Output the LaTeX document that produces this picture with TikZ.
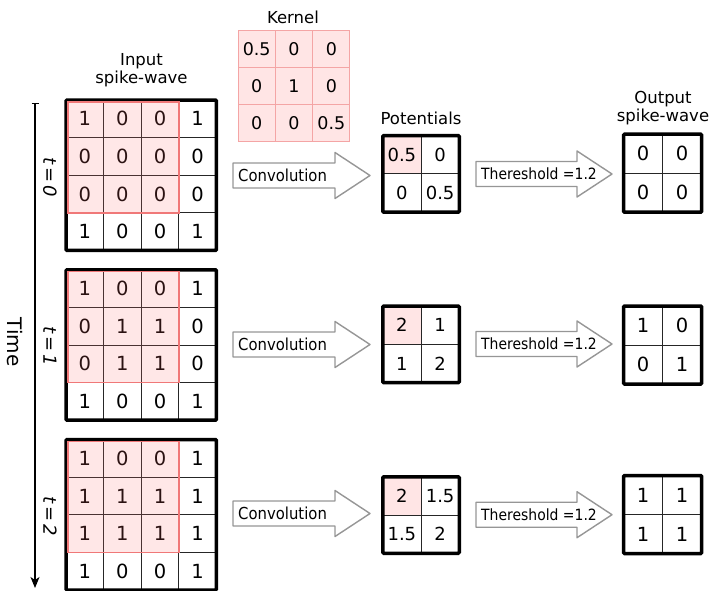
\documentclass[tikz,border=0pt]{standalone}
\usepackage{fontspec}
\setmainfont{DejaVu Sans}
\newfontfamily\condfont[FakeStretch=0.9]{DejaVu Sans}
\usetikzlibrary{arrows.meta}
\definecolor{pinkfill}{RGB}{255,229,229}
\definecolor{pinkline}{RGB}{244,165,165}
\definecolor{hlred}{RGB}{240,120,120}
\definecolor{hlover}{RGB}{255,110,110}
\definecolor{arrgray}{RGB}{150,150,150}
\tikzset{
  thickbox/.style={line width=3.5pt, rounded corners=1pt},
  cellline/.style={line width=0.9pt, black!85},
  digit/.style={font=\fontsize{19.5}{21}\selectfont, inner sep=0pt},
  kdigit/.style={font=\fontsize{17.5}{19}\selectfont, inner sep=0pt},
  pdigit/.style={font=\fontsize{18}{20}\selectfont, inner sep=0pt},
  lbl/.style={font=\fontsize{16.5}{19}\selectfont, inner sep=0pt, align=center},
  hlfill/.style={fill=hlover, fill opacity=0.17},
  hlbox/.style={draw=hlred, line width=1.5pt},
  bigarrow/.style={draw=arrgray, line width=1.4pt, fill=white, line join=round},
  convtxt/.style={font=\condfont\fontsize{16.5}{18}\selectfont, inner sep=0pt, anchor=west},
  thrtxt/.style={font=\condfont\fontsize{15.5}{17}\selectfont, inner sep=0pt, anchor=west},
  tlbl/.style={font=\itshape\fontsize{18}{20}\selectfont, inner sep=0pt, rotate=-90},
}
% input grid: #1 name, #2 top y, #3 rows
\newcommand\ingrid[3]{%
  \def\gs{37.6}%
  \foreach \row [count=\r from 0] in {#3} {%
    \foreach \v [count=\c from 0] in \row {%
      \node[digit] (#1-\r-\c) at ({66+\gs*\c+\gs/2},{#2+\gs*\r+\gs/2}) {\v};
    }%
  }%
  \foreach \k in {1,2,3} {%
    \draw[cellline] ({66+\gs*\k},#2) -- ({66+\gs*\k},{#2+4*\gs});
    \draw[cellline] (66,{#2+\gs*\k}) -- ({66+4*\gs},{#2+\gs*\k});
  }%
  \fill[hlfill] (67.5,{#2+1.5}) rectangle ({66+3*\gs},{#2+3*\gs});
  \draw[thickbox] (66,#2) rectangle ({66+4*\gs},{#2+4*\gs});
  \draw[hlbox] (67.8,{#2+1.8}) rectangle ({66+3*\gs},{#2+3*\gs});
}
% 2x2 grid: #1 name, #2 cx, #3 cy, #4 half, #5 four values, #6 highlight?, #7 digit style
\newcommand\smallgrid[7]{%
  \ifnum#6=1 \fill[pinkfill] ({#2-#4},{#3-#4}) rectangle (#2,#3);\fi
  \draw[cellline] (#2,{#3-#4}) -- (#2,{#3+#4});
  \draw[cellline] ({#2-#4},#3) -- ({#2+#4},#3);
  \draw[thickbox] ({#2-#4},{#3-#4}) rectangle ({#2+#4},{#3+#4});
  \foreach \v [count=\i from 0] in {#5} {%
    \pgfmathtruncatemacro\cc{mod(\i,2)}%
    \pgfmathtruncatemacro\rr{\i/2}%
    \node[#7] (#1-\rr-\cc) at ({#2-#4/2+#4*\cc},{#3-#4/2+#4*\rr}) {\v};
  }%
}
% arrow: #1 tail x, #2 tip x, #3 head base x, #4 cy
\newcommand\fatarrow[4]{%
  \draw[bigarrow] (#1,{#4-12.5}) -- (#3,{#4-12.5}) -- (#3,{#4-23}) -- (#2,#4)
    -- (#3,{#4+23}) -- (#3,{#4+12.5}) -- (#1,{#4+12.5}) -- cycle;
}
\begin{document}
\begin{tikzpicture}[x=1pt,y=-1pt]
\useasboundingbox (0,0) rectangle (715,590);

% labels
\node[lbl] (kernlbl) at (293,17) {Kernel};
\node[lbl] (inlbl) at (141.5,70) {Input\\[-1pt]spike-wave};
\node[lbl] (potlbl) at (421,118) {Potentials};
\node[lbl] (outlbl) at (663,108) {Output\\[-1pt]spike-wave};

% kernel
\fill[pinkfill] (238,30) rectangle (350,142);
\foreach \k in {0,1,2,3} {
  \draw[pinkline, line width=1pt] ({238+37.33*\k},30) -- ({238+37.33*\k},142);
  \draw[pinkline, line width=1pt] (238,{30+37.33*\k}) -- (350,{30+37.33*\k});
}
\foreach \row [count=\r from 0] in {{0.5,0,0},{0,1,0},{0,0,0.5}} {
  \foreach \v [count=\c from 0] in \row {
    \node[kdigit] (k-\r-\c) at ({238+37.33*\c+18.67},{30+37.33*\r+18.67}) {\v};
  }
}

% time axis
\coordinate (ttop) at (35,103);
\coordinate (tbot) at (35,588);
\draw[line width=1.4pt, {Bar[width=7pt]}-{Stealth[length=11pt,width=9pt,inset=3pt]}] (ttop) -- (tbot);
\node[font=\fontsize{20}{22}\selectfont, inner sep=0pt, rotate=-90] (timelbl) at (15,342) {Time};

% input grids
\ingrid{ga}{100}{{1,0,0,1},{0,0,0,0},{0,0,0,0},{1,0,0,1}}
\ingrid{gb}{269.8}{{1,0,0,1},{0,1,1,0},{0,1,1,0},{1,0,0,1}}
\ingrid{gc}{439.6}{{1,0,0,1},{1,1,1,1},{1,1,1,1},{1,0,0,1}}

\node[tlbl] (t0) at (50,177) {t\,=\,0};
\node[tlbl] (t1) at (50,346) {t\,=\,1};
\node[tlbl] (t2) at (50,516) {t\,=\,2};

% potentials
\smallgrid{pa}{421}{173.8}{38.25}{0.5,0,0,0.5}{1}{pdigit}
\smallgrid{pb}{421}{344.4}{38.25}{2,1,1,2}{1}{pdigit}
\smallgrid{pc}{421}{515}{38.25}{2,1.5,1.5,2}{1}{pdigit}

% outputs
\smallgrid{oa}{662.6}{173.2}{39}{0,0,0,0}{0}{digit}
\smallgrid{ob}{662.6}{345}{39}{1,0,0,1}{0}{digit}
\smallgrid{oc}{662.6}{514.5}{39}{1,1,1,1}{0}{digit}

% arrows
\fatarrow{233}{370}{335}{175.5}
\node[convtxt] (ca) at (238,175.5) {Convolution};
\fatarrow{233}{370}{335}{344.5}
\node[convtxt] (cb) at (238,344.5) {Convolution};
\fatarrow{233}{370}{335}{513.5}
\node[convtxt] (cc) at (238,513.5) {Convolution};

\fatarrow{476}{612}{577}{174}
\node[thrtxt] (ta) at (481,174) {Thereshold =1.2};
\fatarrow{476}{612}{577}{344}
\node[thrtxt] (tb) at (481,344) {Thereshold =1.2};
\fatarrow{476}{612}{577}{514.7}
\node[thrtxt] (tc) at (481,514.7) {Thereshold =1.2};
\end{tikzpicture}
\end{document}
